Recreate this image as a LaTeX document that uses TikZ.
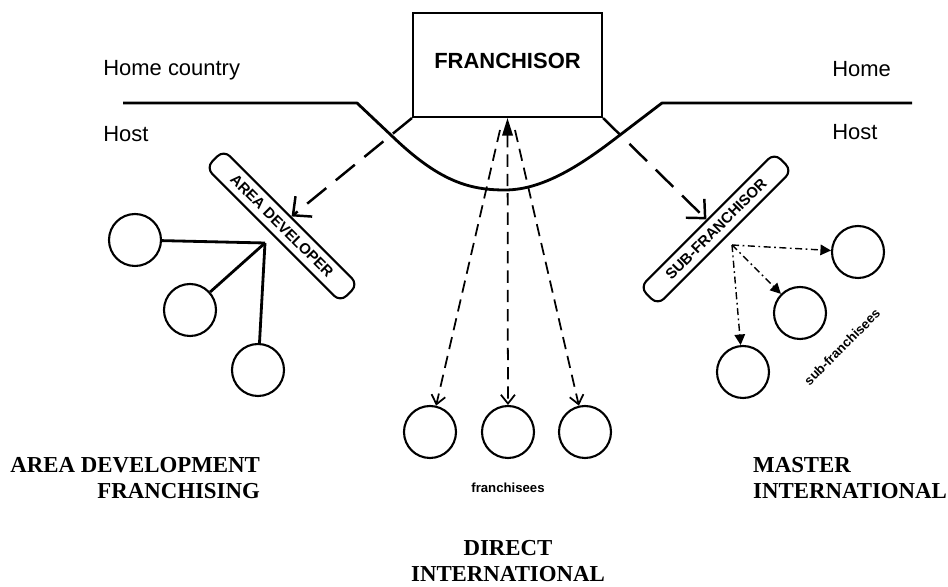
\documentclass[tikz,border=0pt]{standalone}
\usepackage{fontspec}
\setmainfont{Liberation Serif}
\setsansfont{Liberation Sans}
\usetikzlibrary{arrows.meta}
\usetikzlibrary{positioning}

\begin{document}
\begin{tikzpicture}[x=0.02cm,y=-0.02cm,
        boundary/.style={line width=1.6pt, line join=round},
        unit/.style={draw, circle, line width=1.2pt, minimum size=1.04cm, inner sep=0pt},
        tag/.style={draw, line width=1.2pt, rounded corners=5pt, minimum width=3.8cm,
            minimum height=0.5cm, inner sep=0pt, font=\sffamily\bfseries\fontsize{8.5}{9}\selectfont},
        bigdash/.style={line width=1.4pt, dash pattern=on 14pt off 7pt,
            -{Straight Barb[length=8pt,width=15pt,line width=1.4pt]}},
        smalldash/.style={line width=1pt, dash pattern=on 7pt off 4pt,
            -{Straight Barb[length=5pt,width=8pt,line width=1pt]}},
        dotdash/.style={line width=0.8pt, dash pattern=on 4pt off 2pt on 1pt off 2pt,
            -{Triangle[length=6pt,width=6pt]}},
        region/.style={font=\bfseries\fontsize{13}{15.3}\selectfont},
        side/.style={font=\sffamily\fontsize{12.5}{14}\selectfont, inner sep=0pt},
        small/.style={font=\sffamily\bfseries\fontsize{7.5}{9}\selectfont}
    ]
        \useasboundingbox (0,0) rectangle (948,587);

        % home / host boundary
        \draw[boundary] (123,103) -- (357,103) -- (393,137)
            .. controls (440,182) and (470,190) .. (505,190)
            .. controls (545,190) and (585,162) .. (620,135) -- (662,103) -- (912,103);
        \node[side, anchor=west] (homel) at (103,70) {Home country};
        \node[side, anchor=west] (hostl) at (103,134) {Host};
        \node[side, anchor=west] (homer) at (832,69) {Home};
        \node[side, anchor=west] (hostr) at (832,132) {Host};

        \node[draw, line width=1.2pt, minimum width=3.78cm, minimum height=2.08cm,
            font=\sffamily\bfseries\fontsize{12.5}{14}\selectfont] (franchisor) at (507.5,65) {};
        \node[font=\sffamily\bfseries\fontsize{12.5}{14}\selectfont] (frtitle) at (507.5,61) {FRANCHISOR};

        % area development
        \node[tag, rotate=-45] (areadev) at (282,226) {AREA DEVELOPER};
        \node[unit] (ad1) at (135,240) {};
        \node[unit] (ad2) at (190,310) {};
        \node[unit] (ad3) at (258,370) {};
        \coordinate (adhub) at (265,243);
        \draw[line width=1.6pt] (ad1) -- (adhub);
        \draw[line width=1.6pt] (ad2) -- (adhub);
        \draw[line width=1.6pt] (ad3) -- (adhub);
        \draw[bigdash] (franchisor.south west) -- (areadev.north);

        % master
        \node[tag, rotate=45] (subfr) at (716,229) {SUB-FRANCHISOR};
        \node[unit] (sf1) at (858,252) {};
        \node[unit] (sf2) at (800,313) {};
        \node[unit] (sf3) at (743,372) {};
        \coordinate (sfhub) at (732,245);
        \draw[dotdash] (sfhub) -- (sf1);
        \draw[dotdash] (sfhub) -- (sf2);
        \draw[dotdash] (sfhub) -- (sf3);
        \draw[bigdash] (franchisor.south east) -- (subfr.north);
        \node[small, rotate=45] (sublab) at (842,347) {sub-franchisees};

        % direct
        \node[unit] (fr1) at (430,432) {};
        \node[unit] (fr2) at (508,432) {};
        \node[unit] (fr3) at (585,432) {};
        \coordinate (topl) at (500,130);
        \coordinate (topr) at (515,130);
        \draw[smalldash] (topl) -- (fr1);
        \draw[smalldash, {Triangle[length=10pt,width=6pt]}-{Straight Barb[length=5pt,width=8pt,line width=1pt]}]
            (franchisor.south) -- (fr2);
        \draw[smalldash] (topr) -- (fr3);
        \node[small] (frlab) at (508,488) {franchisees};

        % captions
        \node[region, align=right, anchor=east] (adcap) at (266,478) {AREA DEVELOPMENT\\FRANCHISING};
        \node[region, align=left, anchor=west] (mcap) at (747,478) {MASTER\\INTERNATIONAL};
        \node[region, align=center] (dcap) at (508,561) {DIRECT\\INTERNATIONAL};
\end{tikzpicture}
\end{document}
